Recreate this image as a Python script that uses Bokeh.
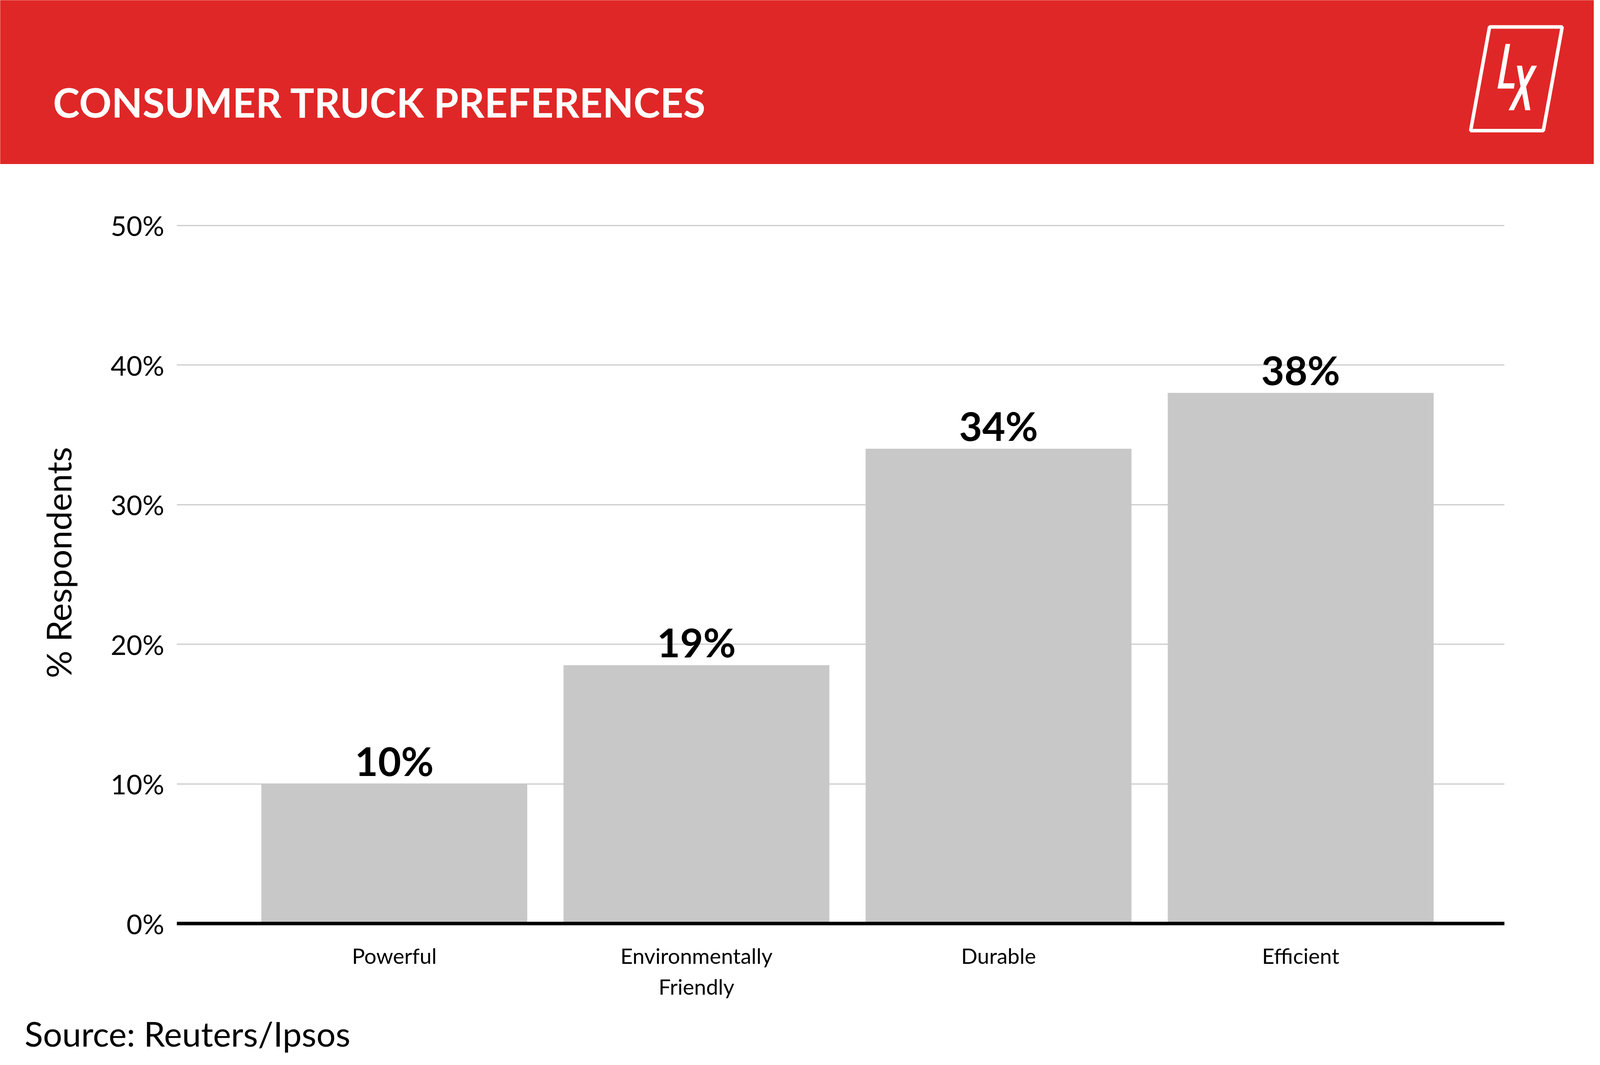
from bokeh.plotting import figure
from bokeh.layouts import column
from bokeh.models import Range1d, FixedTicker, Span, ColumnDataSource
from bokeh.core.properties import value
from bokeh.embed import file_html
from bokeh.resources import INLINE

# ---- data ----
TITLE = "CONSUMER TRUCK PREFERENCES"
SOURCE = "Source: Reuters/Ipsos"
Y_LABEL = "% Respondents"
CATEGORIES = ["Powerful", "Environmentally\nFriendly", "Durable", "Efficient"]
VALUES = [10, 18.5, 34, 38]
VALUE_LABELS = ["10%", "19%", "34%", "38%"]
Y_TICKS = [0, 10, 20, 30, 40, 50]
Y_TICK_LABELS = ["0%", "10%", "20%", "30%", "40%", "50%"]

RED = "#E02727"
BAR = "#C8C8C8"
GRID = "#CCCCCC"
FONT = "Lato"

PAGE_W = 4096          # actual browser viewport width
W = PAGE_W - 16        # figure width inside the 8px margin
SX = PAGE_W / 5000.0   # horizontal scale from the reference design

def xr():
    # range mapping reference-design x coordinates onto the page
    return Range1d(8 / SX, (8 + W) / SX)

# ---- header ----
header = figure(width=W, height=420, x_range=xr(), y_range=Range1d(428, 8),
                output_backend="svg", toolbar_location=None, min_border=0, frame_align=False,
                x_axis_type=None, y_axis_type=None,
                background_fill_color=RED, border_fill_color=RED, outline_line_color=None)
header.grid.visible = False
header.text(x=[175], y=[268], text=[TITLE], text_font=value(FONT), text_font_style="bold",
            text_font_size="103px", text_color="white", text_baseline="alphabetic", text_align="left")
# logo
header.patch([4664, 4891, 4832, 4605], [76.5, 76.5, 342, 342], fill_color=None,
             line_color="white", line_width=9)
header.patch([4713.8, 4728.4, 4706.9, 4742.5, 4740.2, 4688.9],
             [120, 120, 220.7, 220.7, 234.3, 234.3], fill_color="white", line_color=None)
header.patch([4749.4, 4765.5, 4773.1, 4795.3, 4812.2, 4778.1, 4791.5, 4775.4, 4765.9, 4739.8, 4723.4, 4760.9],
             [175.7, 175.7, 211.7, 175.7, 175.7, 229.3, 289.7, 289.7, 246.7, 289.7, 289.7, 229.3],
             fill_color="white", line_color=None)

# ---- chart ----
xs = list(range(len(CATEGORIES)))
src = ColumnDataSource(dict(x=xs, top=VALUES, lab=VALUE_LABELS))

frame_left = round(561 * SX)
frame_right = round(4711 * SX)
p = figure(width=W, height=2147, x_range=Range1d(-0.7201, 3.6746), y_range=Range1d(-0.3, 52),
           output_backend="svg", toolbar_location=None, frame_align=False,
           min_border_left=frame_left - 8, min_border_right=(8 + W) - frame_right,
           min_border_top=85, min_border_bottom=192,
           outline_line_color=None, background_fill_color="white", border_fill_color="white")

p.vbar(x="x", top="top", bottom=0, width=0.88, source=src, fill_color=BAR, line_color=None)
p.text(x="x", y="top", text="lab", source=src, y_offset=-60, text_align="center",
       text_baseline="alphabetic", text_font=value(FONT), text_font_style="bold",
       text_font_size="102px", text_color="black")
p.add_layout(Span(location=0, dimension="width", line_color="black", line_width=9))

p.xgrid.visible = False
p.ygrid.ticker = FixedTicker(ticks=Y_TICKS)
p.ygrid.grid_line_color = GRID
p.ygrid.grid_line_width = 3

p.yaxis.ticker = FixedTicker(ticks=Y_TICKS)
p.yaxis.major_label_overrides = {t: l for t, l in zip(Y_TICKS, Y_TICK_LABELS)}
p.yaxis.axis_line_color = None
p.yaxis.major_tick_line_color = None
p.yaxis.minor_tick_line_color = None
p.yaxis.major_label_standoff = 26
p.yaxis.major_label_text_font = FONT
p.yaxis.major_label_text_font_size = "70px"
p.yaxis.major_label_text_color = "black"
p.yaxis.axis_label = Y_LABEL
p.yaxis.axis_label_text_font = FONT
p.yaxis.axis_label_text_font_size = "88px"
p.yaxis.axis_label_text_font_style = "normal"
p.yaxis.axis_label_text_color = "black"
p.yaxis.axis_label_standoff = 78

p.xaxis.ticker = FixedTicker(ticks=xs)
p.xaxis.major_label_overrides = {i: c for i, c in zip(xs, CATEGORIES)}
p.xaxis.axis_line_color = None
p.xaxis.major_tick_line_color = None
p.xaxis.minor_tick_line_color = None
p.xaxis.major_label_standoff = 32
p.xaxis.major_label_text_font = FONT
p.xaxis.major_label_text_font_size = "55px"
p.xaxis.major_label_text_color = "black"

# ---- footer ----
footer = figure(width=W, height=144, x_range=xr(), y_range=Range1d(2719, 2575),
                output_backend="svg", toolbar_location=None, min_border=0, frame_align=False,
                x_axis_type=None, y_axis_type=None, outline_line_color=None)
footer.grid.visible = False
footer.text(x=[86], y=[2654], text=[SOURCE], text_font=value(FONT), text_font_size="87px",
            text_color="black", text_baseline="alphabetic", text_align="left")

layout = column(header, p, footer, spacing=0)
open("out.html", "w").write(file_html(layout, INLINE))
